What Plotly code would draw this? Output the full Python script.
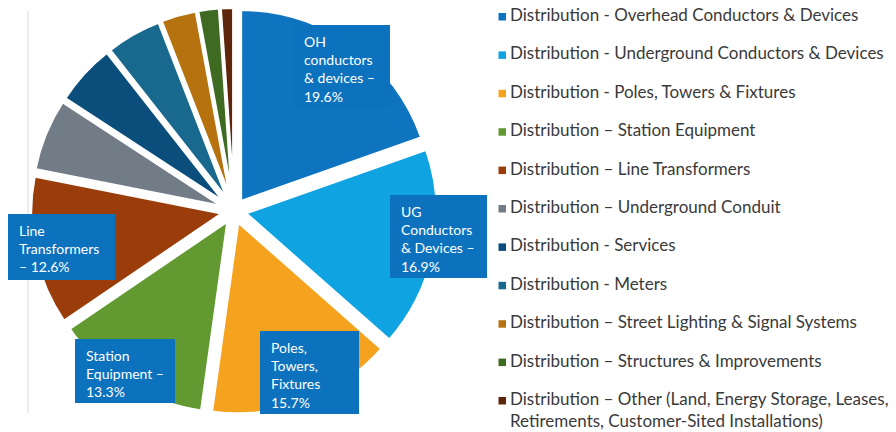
import plotly.graph_objects as go

# Distribution plant categories and their share of the total (%)
categories = [
    "Distribution - Overhead Conductors & Devices",
    "Distribution - Underground Conductors & Devices",
    "Distribution - Poles, Towers & Fixtures",
    "Distribution – Station Equipment",
    "Distribution – Line Transformers",
    "Distribution – Underground Conduit",
    "Distribution - Services",
    "Distribution - Meters",
    "Distribution – Street Lighting & Signal Systems",
    "Distribution – Structures & Improvements",
    "Distribution – Other (Land, Energy Storage, Leases, Retirements, Customer-Sited Installations)",
]
shares = [19.6, 16.9, 15.7, 13.3, 12.6, 6.1, 5.2, 4.7, 3.0, 1.8, 1.1]
colors = [
    "#0E74C0", "#0FA4E1", "#F5A31E", "#629A31", "#9A3D0A", "#717C86",
    "#0B4D7B", "#19698F", "#B5720F", "#3E6A22", "#5E260A",
]

# Callout text for the five largest slices ({v} is filled with the share)
callout_text = [
    "OH<br>conductors<br>& devices –<br>{v}%",
    "UG<br>Conductors<br>& Devices –<br>{v}%",
    "Poles,<br>Towers,<br>Fixtures<br>{v}%",
    "Station<br>Equipment –<br>{v}%",
    "Line<br>Transformers<br>– {v}%",
]
# Callout boxes in pixel space: (left, top, right, bottom)
callout_boxes = [
    (293, 25, 390, 108),
    (390, 195, 487, 278),
    (260, 331, 359, 414),
    (75, 339, 175, 403),
    (8, 214, 115, 280),
]

W, H = 896, 432
FONT = "Lato"
BOX_COLOR = "#0C72BE"

# Pie geometry (pixels)
cx, cy, r, pull = 234, 211, 192, 0.06
half = r * (1 + pull)
dom_x = [(cx - half) / W, (cx + half) / W]
dom_y = [1 - (cy + half) / H, 1 - (cy - half) / H]

fig = go.Figure(
    go.Pie(
        labels=categories,
        values=shares,
        sort=False,
        direction="clockwise",
        rotation=0,
        pull=[pull] * len(shares),
        marker=dict(colors=colors, line=dict(color="white", width=3)),
        textinfo="none",
        hoverinfo="label+percent",
        showlegend=False,
        domain=dict(x=dom_x, y=dom_y),
    )
)

shapes = []
annotations = []

# thin frame line at the left of the pie
shapes.append(dict(type="line", xref="x", yref="y", x0=28, x1=28, y0=11, y1=413,
                   line=dict(color="#D9D9D9", width=1), layer="below"))

# callout boxes with text
for tmpl, v, (x0, y0, x1, y1) in zip(callout_text, shares, callout_boxes):
    shapes.append(dict(type="rect", xref="x", yref="y", x0=x0, x1=x1, y0=y0, y1=y1,
                       fillcolor=BOX_COLOR, line=dict(width=0), layer="above"))
    annotations.append(dict(
        xref="x", yref="y", x=x0 + 9, y=y0 + 6, xanchor="left", yanchor="top",
        text=tmpl.format(v=v), showarrow=False, align="left",
        font=dict(family=FONT, size=14, color="white"),
    ))

# legend built from the category list
row0, row_gap = 15, 38.4
for i, (name, col) in enumerate(zip(categories, colors)):
    yc = row0 + i * row_gap
    shapes.append(dict(type="rect", xref="x", yref="y", x0=498.5, x1=506, y0=yc - 2, y1=yc + 5.5,
                       fillcolor=col, line=dict(width=0), layer="above"))
    label = name.replace("Leases, ", "Leases,<br>")
    annotations.append(dict(
        xref="x", yref="y", x=508, y=yc - 13, xanchor="left", yanchor="top",
        text=label, showarrow=False, align="left",
        font=dict(family=FONT, size=17, color="#3A3A3A"),
    ))

fig.update_layout(
    width=W, height=H,
    margin=dict(l=0, r=0, t=0, b=0),
    paper_bgcolor="white", plot_bgcolor="white",
    xaxis=dict(range=[0, W], visible=False, fixedrange=True),
    yaxis=dict(range=[H, 0], visible=False, fixedrange=True),
    shapes=shapes,
    annotations=annotations,
)

fig.write_html("out.html")
